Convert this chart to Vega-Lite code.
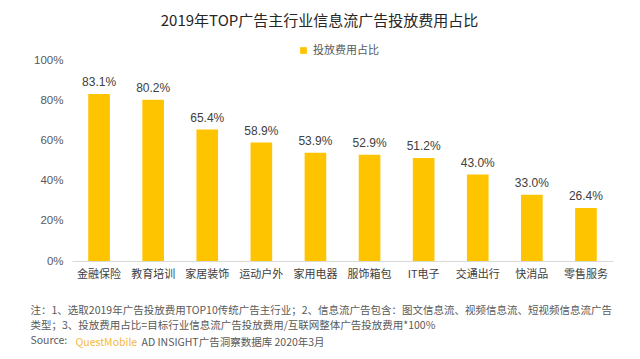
{
  "$schema": "https://vega.github.io/schema/vega-lite/v6.json",
  "width": 541,
  "height": 201,
  "autosize": {"type": "none"},
  "padding": {"left": 72, "top": 60, "right": 27, "bottom": 98},
  "background": "white",
  "config": {
    "font": "Noto Sans CJK SC",
    "view": {"stroke": null}
  },
  "title": {
    "text": "2019年TOP广告主行业信息流广告投放费用占比",
    "fontSize": 15,
    "fontWeight": "normal",
    "color": "#262626",
    "anchor": "middle",
    "dx": -23,
    "offset": 16
  },
  "data": {
    "values": [
      {"industry": "金融保险", "share": 0.831},
      {"industry": "教育培训", "share": 0.802},
      {"industry": "家居装饰", "share": 0.654},
      {"industry": "运动户外", "share": 0.589},
      {"industry": "家用电器", "share": 0.539},
      {"industry": "服饰箱包", "share": 0.529},
      {"industry": "IT电子", "share": 0.512},
      {"industry": "交通出行", "share": 0.430},
      {"industry": "快消品", "share": 0.330},
      {"industry": "零售服务", "share": 0.264}
    ]
  },
  "resolve": {"axis": {"x": "independent"}},
  "layer": [
    {
      "mark": {"type": "bar", "color": "#FFC400"},
      "encoding": {
        "x": {
          "field": "industry",
          "type": "nominal",
          "sort": null,
          "scale": {"paddingInner": 0.6, "paddingOuter": 0.3},
          "axis": {
            "orient": "bottom",
            "labelAngle": 0,
            "labelFontSize": 11,
            "labelColor": "#404040",
            "labelPadding": 7,
            "ticks": false,
            "domainColor": "#d9d9d9",
            "title": [
              "注：1、选取2019年广告投放费用TOP10传统广告主行业；2、信息流广告包含：图文信息流、视频信息流、短视频信息流广告",
              "类型；3、投放费用占比=目标行业信息流广告投放费用/互联网整体广告投放费用*100%",
              "Source:"
            ],
            "titleFontSize": 10.5,
            "titleFontWeight": "normal",
            "titleColor": "#595959",
            "titleAnchor": "start",
            "titleAlign": "left",
            "titleBaseline": "top",
            "titleLineHeight": 15,
            "titleX": -42,
            "titleY": 44
          }
        },
        "y": {
          "field": "share",
          "type": "quantitative",
          "scale": {"domain": [0, 1]},
          "axis": {
            "values": [0, 0.2, 0.4, 0.6, 0.8, 1],
            "format": ".0%",
            "labelFont": "Liberation Sans",
            "labelFontSize": 11.5,
            "labelColor": "#595959",
            "labelPadding": 9,
            "ticks": false,
            "domain": false,
            "grid": false,
            "title": null
          }
        },
        "color": {
          "datum": "投放费用占比",
          "type": "nominal",
          "scale": {"range": ["#FFC400"]},
          "legend": {
            "title": null,
            "orient": "none",
            "legendX": 226,
            "legendY": -15,
            "symbolType": "square",
            "symbolSize": 45,
            "labelFontSize": 11,
            "labelColor": "#595959"
          }
        }
      }
    },
    {
      "mark": {"type": "text", "baseline": "alphabetic", "dy": -8, "font": "Liberation Sans", "fontSize": 12, "color": "#404040"},
      "encoding": {
        "x": {"field": "industry", "type": "nominal", "sort": null, "axis": null},
        "y": {"field": "share", "type": "quantitative"},
        "text": {"field": "share", "type": "quantitative", "format": ".1%"}
      }
    },
    {
      "mark": {"type": "text", "text": ""},
      "encoding": {
        "x": {
          "field": "industry",
          "type": "nominal",
          "sort": null,
          "axis": {
            "orient": "bottom",
            "labels": false,
            "ticks": false,
            "domain": false,
            "title": "QuestMobile",
            "titleFontSize": 10.5,
            "titleFontWeight": "normal",
            "titleColor": "#F5B83D",
            "titleAnchor": "start",
            "titleAlign": "left",
            "titleBaseline": "top",
            "titleX": 3,
            "titleY": 76
          }
        },
        "y": {"field": "share", "type": "quantitative"}
      }
    },
    {
      "mark": {"type": "text", "text": ""},
      "encoding": {
        "x": {
          "field": "industry",
          "type": "nominal",
          "sort": null,
          "axis": {
            "orient": "bottom",
            "labels": false,
            "ticks": false,
            "domain": false,
            "title": "AD INSIGHT广告洞察数据库 2020年3月",
            "titleFontSize": 10.5,
            "titleFontWeight": "normal",
            "titleColor": "#595959",
            "titleAnchor": "start",
            "titleAlign": "left",
            "titleBaseline": "top",
            "titleX": 69,
            "titleY": 76
          }
        },
        "y": {"field": "share", "type": "quantitative"}
      }
    }
  ]
}
